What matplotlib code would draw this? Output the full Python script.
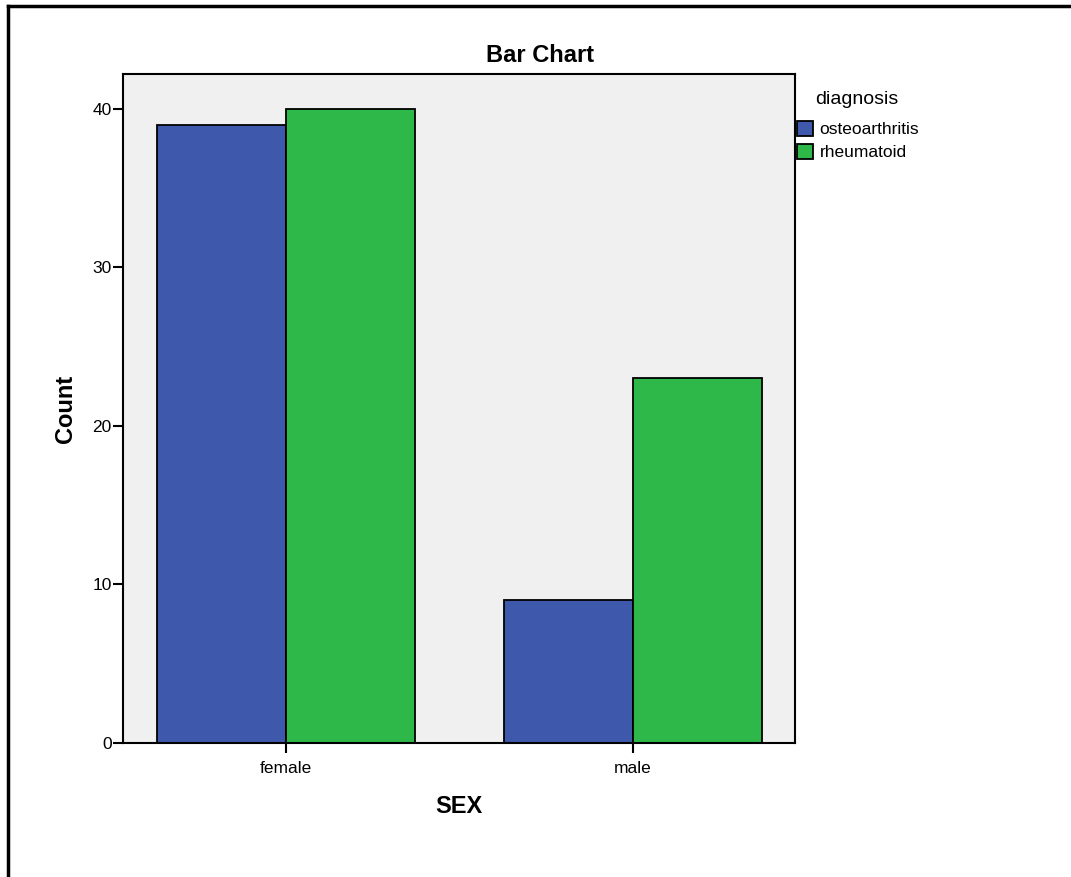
import matplotlib
matplotlib.use("Agg")
import matplotlib.pyplot as plt
from matplotlib.lines import Line2D
import numpy as np

plt.rcParams['font.family'] = ['Liberation Sans', 'DejaVu Sans']

# data
sexes = ["female", "male"]
diagnoses = ["osteoarthritis", "rheumatoid"]
osteo_counts = [39, 9]
rheum_counts = [40, 23]
yticks = [0, 10, 20, 30, 40]

blue = "#3E58AC"
green = "#2EB84A"

W, H = 1071, 877
fig = plt.figure(figsize=(W / 100, H / 100), dpi=100)
ax = fig.add_axes([0.1148, 0.1528, 0.6275, 0.7628])
ax.set_facecolor("#F0F0F0")

x = np.arange(len(sexes))
w = 0.372
ax.bar(x - w / 2, osteo_counts, w, color=blue, edgecolor="black", linewidth=1.3, label=diagnoses[0])
ax.bar(x + w / 2, rheum_counts, w, color=green, edgecolor="black", linewidth=1.3, label=diagnoses[1])

ax.set_xlim(-0.47, 1.467)
ax.set_ylim(0, 42.2)
ax.set_yticks(yticks)
ax.set_xticks(x)
ax.set_xticklabels(sexes)

for s in ax.spines.values():
    s.set_linewidth(1.5)
    s.set_color("black")
ax.tick_params(axis="y", direction="out", length=7, width=1.5, pad=1, labelsize=12.5)
ax.tick_params(axis="x", direction="out", length=7, width=1.5, pad=6, labelsize=12.5)

ax.set_ylabel("Count", fontsize=17, fontweight="bold", labelpad=11)
ax.set_xlabel("SEX", fontsize=17, fontweight="bold", labelpad=14)
fig.text(540 / W, 1 - 55 / H, "Bar Chart", fontsize=17, fontweight="bold",
         ha="center", va="center")

# legend: title as separate text, entries below
fig.text(815 / W, 1 - 99 / H, "diagnosis", fontsize=14, ha="left", va="center")
leg = ax.legend(loc="upper left", bbox_to_anchor=(797 / W, 1 - 121 / H),
                bbox_transform=fig.transFigure, frameon=False, fontsize=12.5,
                handlelength=0.95, handleheight=0.95, handletextpad=0.35,
                labelspacing=0.35, borderaxespad=0, borderpad=0)
for h in leg.legend_handles:
    h.set_linewidth(1.3)

# outer frame (left and top only visible)
fig.add_artist(Line2D([8 / W, 8 / W], [0, 1 - 6 / H], color="black", linewidth=2.5))
fig.add_artist(Line2D([8 / W, 1], [1 - 6 / H, 1 - 6 / H], color="black", linewidth=2.5))

fig.savefig("out.png", dpi=100)
